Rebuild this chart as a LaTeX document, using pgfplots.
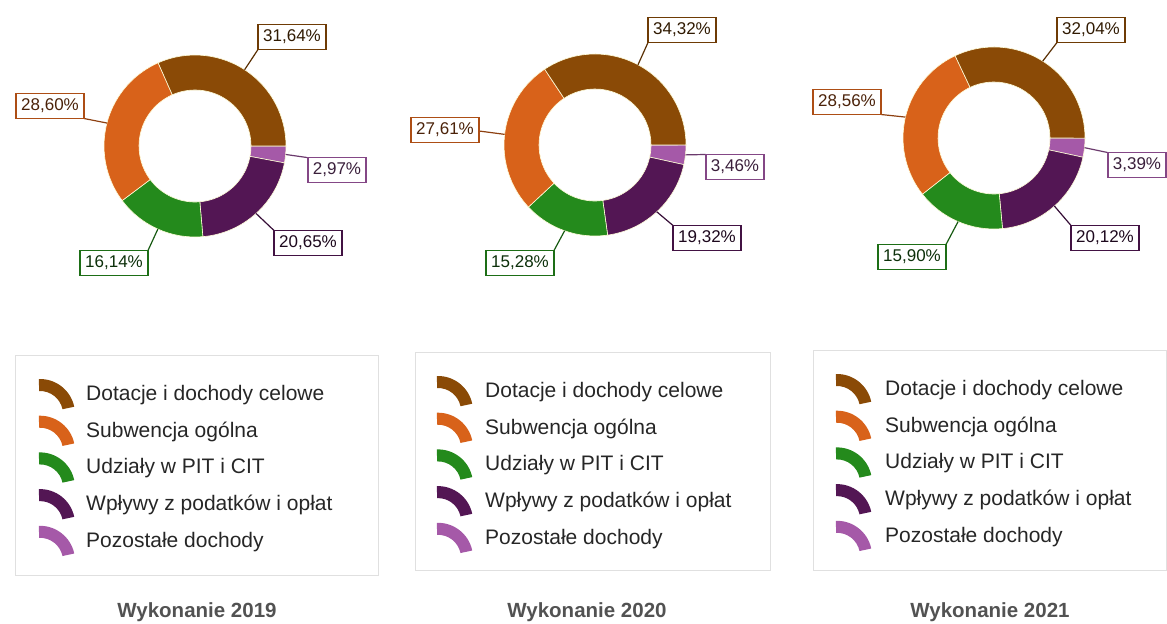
\documentclass[border=0pt]{standalone}
\usepackage{pgfplots}
\pgfplotsset{compat=1.18}
\usepackage{pgfplotstable}
\usepackage{fontspec}
\setmainfont{Liberation Sans}

\definecolor{c0}{HTML}{A559A8} % Pozostałe dochody
\definecolor{c1}{HTML}{531654} % Wpływy z podatków i opłat
\definecolor{c2}{HTML}{248A1C} % Udziały w PIT i CIT
\definecolor{c3}{HTML}{D8621A} % Subwencja ogólna
\definecolor{c4}{HTML}{8A4A06} % Dotacje i dochody celowe

\newcommand\labfont{\fontsize{17bp}{19bp}\selectfont}
\newcommand\legfont{\fontsize{21bp}{25bp}\selectfont}
\newcommand\titfont{\fontsize{20.5bp}{24bp}\selectfont\bfseries}

% rows clockwise from 0 deg: Pozostałe, Wpływy, Udziały, Subwencja, Dotacje
% v = share in %, (bx,by) label box centre, (ex,ey) end of leader line (picture px)
\pgfplotstableread{
v     bx    by    ex     ey
2.97  337   170   307    157.5
20.65 308   243   274    230.5
16.14 114   263   148    250.5
28.60 50    106   84     118.5
31.64 292   37    258    49.5
}\tA
\pgfplotstableread{
v     bx    by    ex     ey
3.46  735   167   705.5  154.5
19.32 707   238   673    225.5
15.28 520   263   554    250.5
27.61 445   130   479    131
34.32 682   30    648    42.5
}\tB
\pgfplotstableread{
v     bx    by    ex     ey
3.39  1137  165   1107.5 152.5
20.12 1105  238   1071   225.5
15.90 912   257   946    244.5
28.56 847   102   881    114.5
32.04 1091  30    1057   42.5
}\tC

\newcommand\prep[2]{%
  \xdef\cum{0}%
  \foreach \i in {0,...,4}{%
    \pgfplotstablegetelem{\i}{v}\of#2\let\vv\pgfplotsretval
    \expandafter\xdef\csname v#1\i\endcsname{\vv}%
    \pgfmathsetmacro\sA{-3.6*\cum}%
    \pgfmathsetmacro\cA{\cum+\vv}%
    \pgfmathsetmacro\eA{-3.6*\cA}%
    \pgfmathsetmacro\fA{\eA+180}%
    \pgfmathsetmacro\mA{(\sA+\eA)/2}%
    \expandafter\xdef\csname s#1\i\endcsname{\sA}%
    \expandafter\xdef\csname e#1\i\endcsname{\eA}%
    \expandafter\xdef\csname f#1\i\endcsname{\fA}%
    \expandafter\xdef\csname m#1\i\endcsname{\mA}%
    \xdef\cum{\cA}%
    \pgfplotstablegetelem{\i}{bx}\of#2\expandafter\xdef\csname bx#1\i\endcsname{\pgfplotsretval}%
    \pgfplotstablegetelem{\i}{by}\of#2\expandafter\xdef\csname by#1\i\endcsname{\pgfplotsretval}%
    \pgfplotstablegetelem{\i}{ex}\of#2\expandafter\xdef\csname ex#1\i\endcsname{\pgfplotsretval}%
    \pgfplotstablegetelem{\i}{ey}\of#2\expandafter\xdef\csname ey#1\i\endcsname{\pgfplotsretval}%
  }%
}
\prep{A}{\tA}
\prep{B}{\tB}
\prep{C}{\tC}

\newcommand\slice[4]{%
  \edef\tmp{\noexpand\fill[c#2, draw=white!85!yellow, line width=0.6bp]
    (axis cs:#3,#4) ++(\csname s#1#2\endcsname:91bp)
    arc[start angle=\csname s#1#2\endcsname, end angle=\csname e#1#2\endcsname, radius=91bp]
    -- ++(\csname f#1#2\endcsname:35bp)
    arc[start angle=\csname e#1#2\endcsname, end angle=\csname s#1#2\endcsname, radius=56bp] -- cycle;}%
  \tmp}

\newcommand\lab[4]{%
  \edef\tmp{\noexpand\draw[c#2!65!black, line width=1.2bp]
    (axis cs:#3,#4) ++(\csname m#1#2\endcsname:91bp) -- (axis cs:\csname ex#1#2\endcsname,\csname ey#1#2\endcsname);
    \noexpand\node[draw=c#2!80!black, line width=1.6bp, fill=white, text=c#2!35!black,
      font=\noexpand\labfont, inner xsep=5bp, inner ysep=0pt, minimum height=25bp]
      at (axis cs:\csname bx#1#2\endcsname,\csname by#1#2\endcsname)
      {\noexpand\pgfmathprintnumber[fixed,fixed zerofill,precision=2,use comma,assume math mode=true]{\csname v#1#2\endcsname}\noexpand\%};}%
  \tmp}

% icon x, text x, first row y, row number, colour, text
\newcommand\legrow[6]{%
  \pgfmathsetmacro\ya{#3+36.7*#4+21}\pgfmathsetmacro\yb{#3+36.7*#4+7.5}%
  \edef\tmp{\noexpand\fill[#5] (axis cs:#1,\ya) ++(92:35bp)
    arc[start angle=92,end angle=12,radius=35bp] -- ++(192:12bp)
    arc[start angle=12,end angle=92,radius=23bp] -- cycle;
    \noexpand\node[anchor=base west, inner sep=0pt, font=\noexpand\legfont, text=black!85]
      at (axis cs:#2,\yb) {\unexpanded{#6}};}%
  \tmp}

\newcommand\legblock[3]{%
  \legrow{#1}{#2}{#3}{0}{c4}{Dotacje i dochody celowe}%
  \legrow{#1}{#2}{#3}{1}{c3}{Subwencja ogólna}%
  \legrow{#1}{#2}{#3}{2}{c2}{Udziały w PIT i CIT}%
  \legrow{#1}{#2}{#3}{3}{c1}{Wpływy z podatków i opłat}%
  \legrow{#1}{#2}{#3}{4}{c0}{Pozostałe dochody}%
}

\begin{document}
\begin{tikzpicture}
\useasboundingbox (0,0) rectangle (1167bp,624bp);
\begin{axis}[at={(0,0)}, anchor=south west, scale only axis,
  width=1167bp, height=624bp, xmin=0, xmax=1167, ymin=0, ymax=624,
  y dir=reverse, hide axis, clip=false]
  % donuts
  \pgfplotsinvokeforeach{0,...,4}{%
    \slice{A}{#1}{195}{146}%
    \slice{B}{#1}{595}{145}%
    \slice{C}{#1}{994}{138}%
  }
  \pgfplotsinvokeforeach{0,...,4}{%
    \lab{A}{#1}{195}{146}%
    \lab{B}{#1}{595}{145}%
    \lab{C}{#1}{994}{138}%
  }
  % legend boxes
  \draw[black!12, line width=1bp] (axis cs:15,355) rectangle (axis cs:378,575);
  \draw[black!12, line width=1bp] (axis cs:415,352) rectangle (axis cs:770,570);
  \draw[black!12, line width=1bp] (axis cs:813,350) rectangle (axis cs:1166,570);
  \legblock{40}{86}{393}
  \legblock{438}{485}{390}
  \legblock{837}{885}{388}
  % titles
  \node[font=\titfont, text=black!68, anchor=base] at (axis cs:197,617) {Wykonanie 2019};
  \node[font=\titfont, text=black!68, anchor=base] at (axis cs:587,617) {Wykonanie 2020};
  \node[font=\titfont, text=black!68, anchor=base] at (axis cs:990,617) {Wykonanie 2021};
\end{axis}
\end{tikzpicture}
\end{document}
